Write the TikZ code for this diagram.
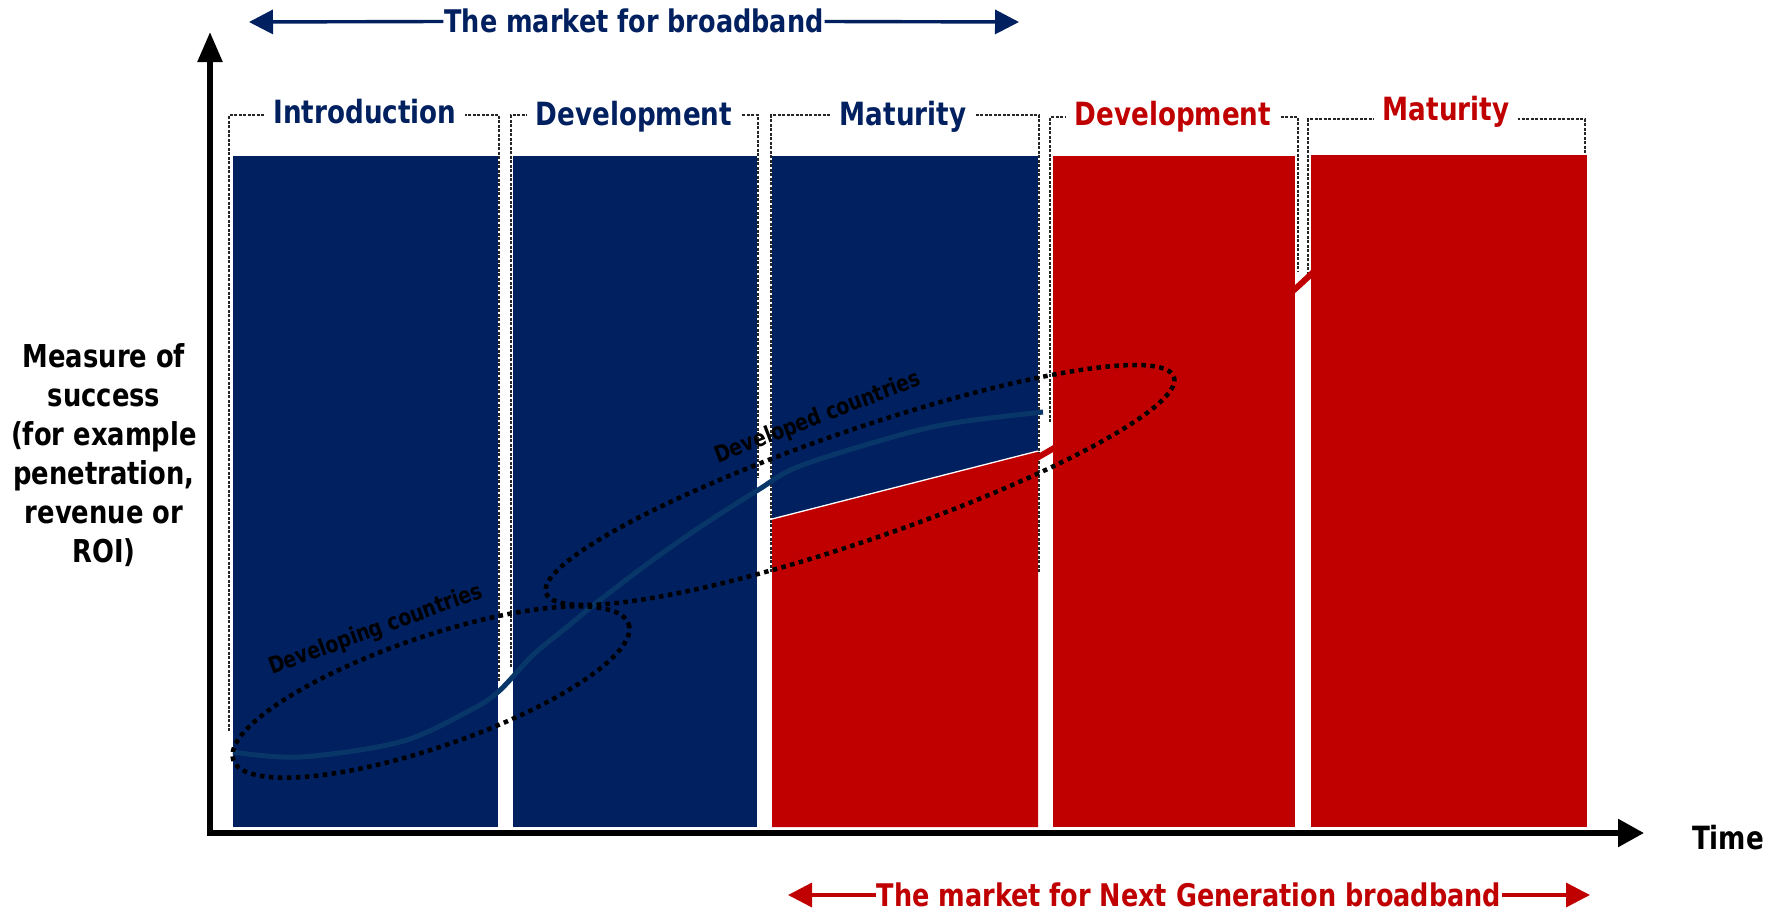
\documentclass[tikz,border=0pt]{standalone}
\usepackage{fontspec}
\usetikzlibrary{arrows.meta}
\newfontfamily\cbold{DejaVu Sans Condensed Bold}[FakeStretch=0.91]
\definecolor{navy}{RGB}{0,32,96}
\definecolor{ngred}{RGB}{192,0,0}
\definecolor{curveblue}{RGB}{8,54,104}

\begin{document}
\begin{tikzpicture}[x=1pt,y=-1pt,
  bracket/.style={draw=black!85,line width=1.1pt,dash pattern=on 3pt off 1.5pt},
  phase/.style={fill=white,inner xsep=9pt,inner ysep=1pt,font=\cbold\fontsize{32}{36}\selectfont},
  dots/.style={draw=black,line width=4.5pt,dash pattern=on 4.5pt off 4.5pt},
  market/.style={fill=white,inner sep=1pt,font=\cbold\fontsize{31.2}{36}\selectfont},
  group/.style={font=\cbold\fontsize{23}{27}\selectfont}]
   \useasboundingbox (0,0) rectangle (1777,911);
   \begin{scope}[bracket]
    \draw (229,731) -- (229,115) -- (499,115) -- (499,682);
    \draw (511,667) -- (511,115) -- (758,115) -- (758,478);
    \draw (771,572) -- (771,115) -- (1039,115) -- (1039,572);
    \draw (1050,422) -- (1050,117) -- (1298,117) -- (1298,271);
    \draw (1308,279) -- (1308,119) -- (1585,119) -- (1585,200);
   \end{scope}
   \draw[ngred,line width=6pt] (1030,462) .. controls (1150,392) and (1250,340) .. (1330,255);
   \fill[navy] (233,156) rectangle (498,827);
   \fill[navy] (513,156) rectangle (757,827);
   \fill[navy] (772,156) rectangle (1038,827);
   \fill[ngred] (772,827) -- (772,519) -- (1038,451) -- (1038,827) -- cycle;
   \draw[white,line width=1.3pt] (772,519) -- (1038,451);
   \fill[ngred] (1053,156) rectangle (1295,827);
   \fill[ngred] (1311,155) rectangle (1587,827);
   \begin{scope}[every node/.style={phase,text=navy}]
    \node (intro) at (365,112) {Introduction};
    \node (dev1) at (634,117) {Development};
    \node (mat1) at (903,117) {Maturity};
   \end{scope}
   \begin{scope}[every node/.style={phase,text=ngred}]
    \node (dev2) at (1173,117) {Development};
    \node (mat2) at (1446,112) {Maturity};
   \end{scope}
   \draw[curveblue,line width=5pt] plot[smooth,tension=0.55] coordinates {(233,752) (300,757) (400,742) (467,712) (498,692) (533,655) (567,627) (600,600) (650,562) (700,527) (758,490) (800,466) (900,435) (960,422) (1043,412)};
   \coordinate (o) at (210,833);
   \coordinate (ytip) at (210,32);
   \coordinate (xtip) at (1644,833);
   \draw[line width=5.5pt,{Triangle[length=30pt,width=24pt]}-{Triangle[length=26pt,width=27pt]}] (ytip) -- (o) -- (xtip);
   \draw[dots,rotate around={19:(431,692)}] (431,692) ellipse [x radius=209,y radius=55];
   \draw[dots,rotate around={19:(860,485)}] (860,485) ellipse [x radius=332,y radius=55];
   \node[group,rotate=20] (poor) at (376,630) {Developing countries};
   \node[group,rotate=21] (rich) at (818,418) {Developed countries};
   \node[align=center,font=\cbold\fontsize{31.5}{39}\selectfont] (ylab) at (104,455) {Measure of\\success\\(for example\\penetration,\\revenue or\\ROI)};
   \node[font=\cbold\fontsize{32}{36}\selectfont] (time) at (1728,838) {Time};
   \node[market,text=navy] (bb) at (634,21) {The market for broadband};
   \coordinate (bbl) at (249,22);
   \coordinate (bbr) at (1019,22);
   \draw[navy,line width=3.4pt,-{Triangle[length=24pt,width=24pt]}] (bb) -- (bbl);
   \draw[navy,line width=3.4pt,-{Triangle[length=24pt,width=24pt]}] (bb) -- (bbr);
   \node[market,text=ngred] (ngb) at (1189,895) {The market for Next Generation broadband};
   \coordinate (ngbl) at (788,895);
   \coordinate (ngbr) at (1590,895);
   \draw[ngred,line width=3.4pt,-{Triangle[length=24pt,width=24pt]}] (ngb) -- (ngbl);
   \draw[ngred,line width=3.4pt,-{Triangle[length=24pt,width=24pt]}] (ngb) -- (ngbr);
\end{tikzpicture}
\end{document}
